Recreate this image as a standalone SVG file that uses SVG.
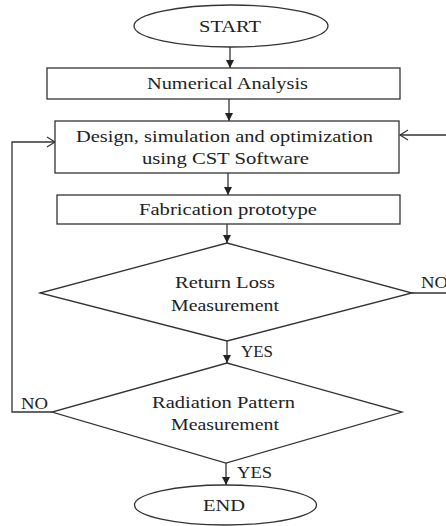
<svg xmlns="http://www.w3.org/2000/svg" width="446" height="526" viewBox="0 0 446 526">
<defs>
<style>
.shape{fill:#fff;stroke:#333;stroke-width:1.3}
.conn{fill:none;stroke:#333;stroke-width:1.3}
text{font-family:"Liberation Serif","Times New Roman",serif;font-size:16.5px;fill:#222}
</style>
<marker id="fa" markerUnits="userSpaceOnUse" markerWidth="9" markerHeight="9" refX="8" refY="4" orient="auto">
<path d="M0,0 L8,4 L0,8 z" fill="#222"/>
</marker>
<marker id="oa" markerUnits="userSpaceOnUse" markerWidth="12" markerHeight="14" refX="9" refY="6" orient="auto">
<path d="M1,1 L9,6 L1,11" fill="none" stroke="#333" stroke-width="1.2"/>
</marker>
</defs>
<rect width="446" height="526" fill="#fff"/>
<g id="connectors">
<path class="conn" d="M230,47 L230,68" marker-end="url(#fa)"/>
<path class="conn" d="M229,99 L229,121" marker-end="url(#fa)"/>
<path class="conn" d="M228,173 L228,195" marker-end="url(#fa)"/>
<path class="conn" d="M227,224 L227,243" marker-end="url(#fa)"/>
<path class="conn" d="M227,341 L227,363" marker-end="url(#fa)"/>
<path class="conn" d="M226,463 L226,485" marker-end="url(#fa)"/>
<path class="conn" d="M412,293 L452,293 L452,135 L400,135" marker-end="url(#oa)"/>
<path class="conn" d="M52,412 L12,412 L12,142 L55,142" marker-end="url(#oa)"/>
<text x="241" y="357" textLength="32" lengthAdjust="spacingAndGlyphs">YES</text>
<text x="237" y="478" textLength="35" lengthAdjust="spacingAndGlyphs">YES</text>
<text x="421" y="288" textLength="27" lengthAdjust="spacingAndGlyphs">NO</text>
<text x="21" y="409" textLength="27" lengthAdjust="spacingAndGlyphs">NO</text>
</g>
<g id="start">
<ellipse class="shape" cx="231" cy="26" rx="97" ry="21"/>
<text x="199" y="32" textLength="62" lengthAdjust="spacingAndGlyphs">START</text>
</g>
<g id="numerical">
<rect class="shape" x="47" y="68" width="353" height="31"/>
<text x="147" y="89" textLength="161" lengthAdjust="spacingAndGlyphs">Numerical Analysis</text>
</g>
<g id="design">
<rect class="shape" x="55" y="121" width="344" height="52"/>
<text x="76" y="142" textLength="297" lengthAdjust="spacingAndGlyphs">Design, simulation and optimization</text>
<text x="142" y="164" textLength="167" lengthAdjust="spacingAndGlyphs">using CST Software</text>
</g>
<g id="fabrication">
<rect class="shape" x="57" y="195" width="343" height="29"/>
<text x="139" y="215" textLength="178" lengthAdjust="spacingAndGlyphs">Fabrication prototype</text>
</g>
<g id="returnloss">
<polygon class="shape" points="227,243 412,293 227,341 40,293"/>
<text x="175" y="288" textLength="100" lengthAdjust="spacingAndGlyphs">Return Loss</text>
<text x="171" y="311" textLength="108" lengthAdjust="spacingAndGlyphs">Measurement</text>
</g>
<g id="radiation">
<polygon class="shape" points="227,363 402,412 226,463 52,412"/>
<text x="152" y="408" textLength="143" lengthAdjust="spacingAndGlyphs">Radiation Pattern</text>
<text x="171" y="430" textLength="108" lengthAdjust="spacingAndGlyphs">Measurement</text>
</g>
<g id="end">
<ellipse class="shape" cx="225.5" cy="505" rx="91" ry="20"/>
<text x="203" y="511" textLength="42" lengthAdjust="spacingAndGlyphs">END</text>
</g>
</svg>
